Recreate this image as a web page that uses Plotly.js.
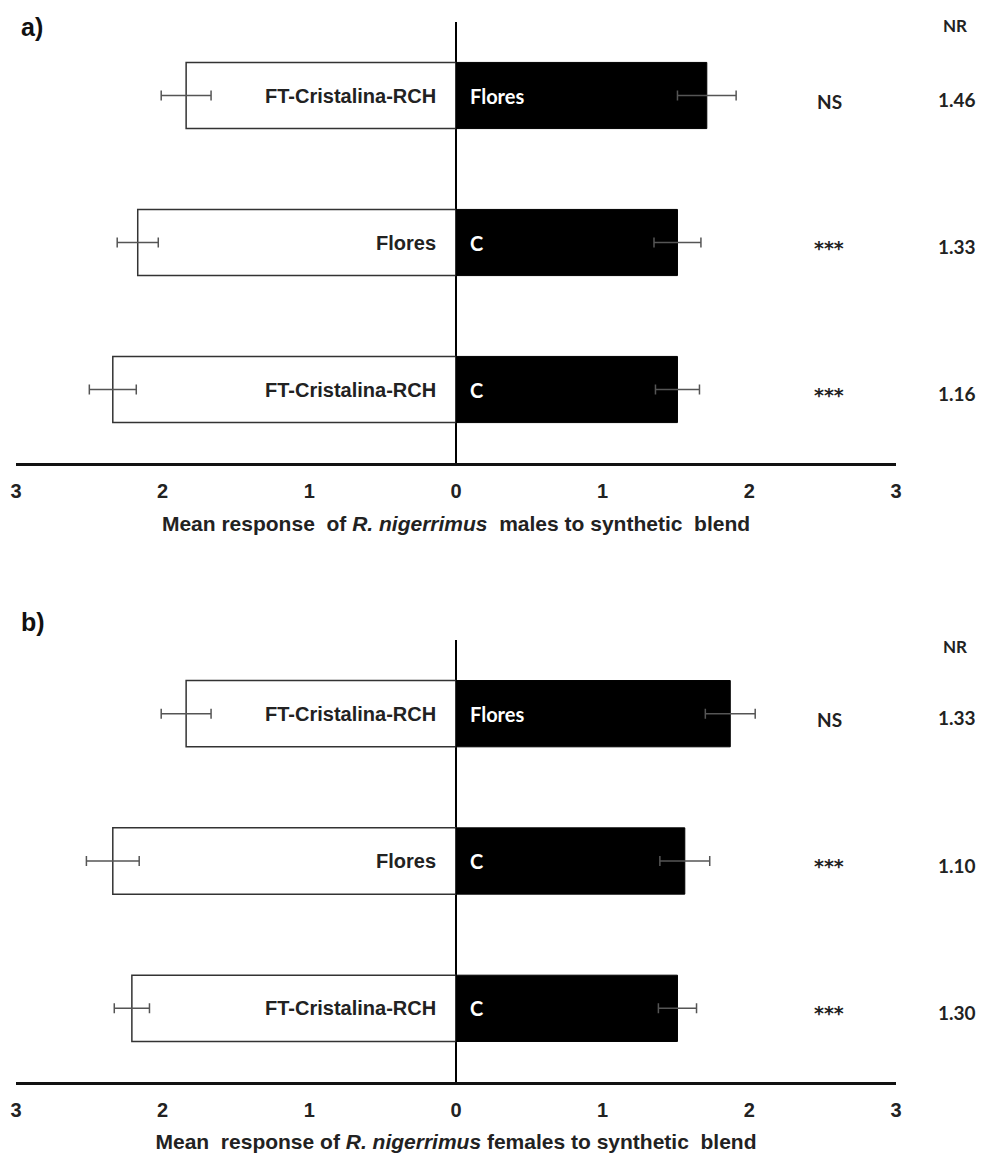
<!DOCTYPE html>
<html>
<head>
<meta charset="utf-8">
<script src="https://cdn.plot.ly/plotly-3.0.1.min.js"></script>
<style>html,body{margin:0;padding:0;background:#fff;}#chart{width:989px;height:1153px;}</style>
</head>
<body>
<div id="chart"></div>
<script>
// ---- data (rows top to bottom) ----
var rowPos = [2, 1, 0];
var xTickVals = [-3, -2, -1, 0, 1, 2, 3];
var xTickText = ['3', '2', '1', '0', '1', '2', '3'];

// Panel a) males
var leftLabelsA = ['FT-Cristalina-RCH', 'Flores', 'FT-Cristalina-RCH'];
var rightLabelsA = ['Flores', 'C', 'C'];
var leftMeansA = [1.84, 2.17, 2.34];
var leftErrA = [0.17, 0.14, 0.16];
var rightMeansA = [1.71, 1.51, 1.51];
var rightErrA = [0.20, 0.16, 0.15];
var sigA = ['NS', '***', '***'];
var nrA = ['1.46', '1.33', '1.16'];
var titleA = 'Mean response  of <i>R. nigerrimus</i>  males to synthetic  blend';

// Panel b) females
var leftLabelsB = ['FT-Cristalina-RCH', 'Flores', 'FT-Cristalina-RCH'];
var rightLabelsB = ['Flores', 'C', 'C'];
var leftMeansB = [1.84, 2.34, 2.21];
var leftErrB = [0.17, 0.18, 0.12];
var rightMeansB = [1.87, 1.56, 1.51];
var rightErrB = [0.17, 0.17, 0.13];
var sigB = ['NS', '***', '***'];
var nrB = ['1.33', '1.10', '1.30'];
var titleB = 'Mean  response of <i>R. nigerrimus</i> females to synthetic  blend';

// ---- styling ----
var textCol = '#222';
var labFont = {family: 'Liberation Sans, Arial, sans-serif', size: 20, color: textCol, weight: 'bold'};
var whiteFont = {family: 'Lato, sans-serif', size: 20, color: '#fff', weight: 'bold'};
var calFont = {family: 'Lato, sans-serif', size: 19, color: textCol, weight: 'bold'};
var starFont = {family: 'DejaVu Sans, sans-serif', size: 19, color: textCol, weight: 'bold'};
var errStyle = {type: 'data', visible: true, color: '#555', thickness: 1.5, width: 5};

function panelTraces(xa, ya, lMeans, lErr, rMeans, rErr) {
  return [
    {type: 'bar', orientation: 'h', xaxis: xa, yaxis: ya, y: rowPos,
     x: lMeans.map(function (v) { return -v; }), width: 0.45,
     marker: {color: '#fff', line: {color: '#333', width: 1.5}},
     error_x: Object.assign({array: lErr}, errStyle), hoverinfo: 'skip', showlegend: false},
    {type: 'bar', orientation: 'h', xaxis: xa, yaxis: ya, y: rowPos,
     x: rMeans, width: 0.45,
     marker: {color: '#000', line: {color: '#000', width: 1}},
     error_x: Object.assign({array: rErr}, errStyle), hoverinfo: 'skip', showlegend: false}
  ];
}

var data = [].concat(
  panelTraces('x', 'y', leftMeansA, leftErrA, rightMeansA, rightErrA),
  panelTraces('x2', 'y2', leftMeansB, leftErrB, rightMeansB, rightErrB)
);

function xAxis(anchor, title) {
  return {
    anchor: anchor, domain: [16 / 989, 896 / 989], range: [-3, 3],
    tickvals: xTickVals, ticktext: xTickText, ticks: '', ticklabelstandoff: 8,
    tickfont: {family: 'Liberation Sans, Arial, sans-serif', size: 20, color: textCol, weight: 'bold'},
    showgrid: false, showline: true, linecolor: '#111', linewidth: 2.5,
    zeroline: true, zerolinecolor: '#000', zerolinewidth: 2.5,
    title: {text: title, standoff: 16,
            font: {family: 'Liberation Sans, Arial, sans-serif', size: 21, color: textCol, weight: 'bold'}},
    fixedrange: true
  };
}
function yAxis(anchor, top, bottom) {
  return {
    anchor: anchor, domain: [1 - bottom / 1153, 1 - top / 1153], range: [-0.5, 2.5],
    showticklabels: false, showgrid: false, zeroline: false, showline: false, ticks: '',
    fixedrange: true
  };
}

var annotations = [];
function panelAnnots(xr, yr, lLab, rLab, sig, nr) {
  for (var i = 0; i < rowPos.length; i++) {
    annotations.push({xref: xr, yref: yr, x: 0, y: rowPos[i], text: lLab[i], showarrow: false,
      xanchor: 'right', yanchor: 'middle', xshift: -18, font: labFont});
    annotations.push({xref: xr, yref: yr, x: 0, y: rowPos[i], text: rLab[i], showarrow: false,
      xanchor: 'left', yanchor: 'middle', xshift: 12, font: whiteFont});
    var isStar = sig[i].indexOf('*') >= 0;
    annotations.push({xref: 'paper', yref: yr, x: 829 / 989, y: rowPos[i], text: sig[i], showarrow: false,
      xanchor: 'center', yanchor: 'middle', yshift: isStar ? -5 : -6, font: isStar ? starFont : calFont});
    annotations.push({xref: 'paper', yref: yr, x: 957 / 989, y: rowPos[i], text: nr[i], showarrow: false,
      xanchor: 'center', yanchor: 'middle', yshift: -4, font: calFont});
  }
}
panelAnnots('x', 'y', leftLabelsA, rightLabelsA, sigA, nrA);
panelAnnots('x2', 'y2', leftLabelsB, rightLabelsB, sigB, nrB);

// headers and panel letters
annotations.push({xref: 'paper', yref: 'paper', x: 955 / 989, y: 1 - 25 / 1153, text: 'NR', showarrow: false,
  xanchor: 'center', yanchor: 'middle', font: {family: 'Lato, sans-serif', size: 17, color: textCol, weight: 'bold'}});
annotations.push({xref: 'paper', yref: 'paper', x: 955 / 989, y: 1 - 646 / 1153, text: 'NR', showarrow: false,
  xanchor: 'center', yanchor: 'middle', font: {family: 'Lato, sans-serif', size: 17, color: textCol, weight: 'bold'}});
annotations.push({xref: 'paper', yref: 'paper', x: 19 / 989, y: 1 - 27 / 1153, text: 'a)', showarrow: false,
  xanchor: 'left', yanchor: 'middle', font: {family: 'Liberation Sans, Arial, sans-serif', size: 25, color: '#111', weight: 'bold'}});
annotations.push({xref: 'paper', yref: 'paper', x: 19 / 989, y: 1 - 622 / 1153, text: 'b)', showarrow: false,
  xanchor: 'left', yanchor: 'middle', font: {family: 'Liberation Sans, Arial, sans-serif', size: 25, color: '#111', weight: 'bold'}});

var layout = {
  width: 989, height: 1153,
  margin: {l: 0, r: 0, t: 0, b: 0},
  paper_bgcolor: '#fff', plot_bgcolor: '#fff',
  barmode: 'overlay', showlegend: false,
  xaxis: xAxis('y', titleA),
  yaxis: yAxis('x', 22, 463),
  xaxis2: xAxis('y2', titleB),
  yaxis2: yAxis('x2', 640, 1082),
  annotations: annotations
};

Plotly.newPlot('chart', data, layout, {staticPlot: true, displayModeBar: false});
</script>
</body>
</html>
